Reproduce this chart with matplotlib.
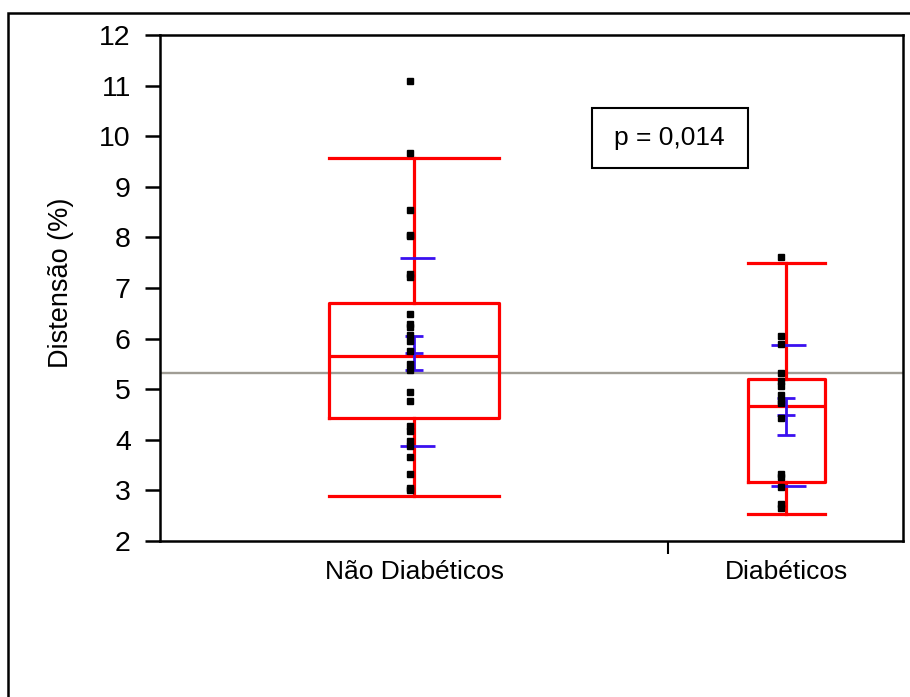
"""
Distensão (%) - Não Diabéticos x Diabéticos
"""

import matplotlib
matplotlib.use("Agg")

import matplotlib.pyplot as plt
from matplotlib.patches import Rectangle


# =====================================================
# Dados
# =====================================================

grupos = ["Não Diabéticos", "Diabéticos"]

nao_diabeticos = [11.10, 9.66, 8.55, 8.05, 8.02, 7.28, 7.22, 6.49, 6.28,
                  6.22, 6.07, 5.96, 5.76, 5.50, 5.38, 4.94, 4.77, 4.28,
                  4.18, 3.98, 3.88, 3.67, 3.33, 3.05, 3.00]

diabeticos = [7.61, 6.05, 5.89, 5.32, 5.17, 5.06, 4.89, 4.77, 4.72,
              4.44, 3.32, 3.27, 3.06, 2.73, 2.66]

# quantis do box plot
bigode_inf = [2.89, 2.54]
q1 = [4.44, 3.17]
mediana = [5.66, 4.66]
q3 = [6.71, 5.21]
bigode_sup = [9.56, 7.49]

# media, erro e desvio padrao
media = [5.71, 4.49]
erro_inf = [5.38, 4.10]
erro_sup = [6.05, 4.83]
dp_inf = [3.88, 3.09]
dp_sup = [7.60, 5.87]

media_geral = 5.33

texto_p = "p = 0,014"


# =====================================================
# Posicoes (eixo x de 0 a 1, largura proporcional ao grupo)
# =====================================================

limite_grupo = 0.684
centro_caixa = [0.342, 0.843]
largura_caixa = [0.228, 0.104]
centro_pontos = [0.336, 0.836]
centro_media = [0.3415, 0.842]
centro_dp = [0.3466, 0.8465]
meia_larg_dp = 0.0236


# =====================================================
# Figura
# =====================================================

fig = plt.figure(figsize=(9.10, 6.97), dpi=100)

plt.rcParams["font.family"] = ["Liberation Sans", "DejaVu Sans"]

ax = fig.add_axes([0.1758, 0.2238, 0.8165, 0.726])

# moldura externa (cortada a direita e embaixo)
fig.add_artist(

    Rectangle(

        (0.0088, -0.2),

        1.2,

        0.2 + 0.9813,

        transform=fig.transFigure,

        fill=False,

        edgecolor="black",

        linewidth=1.8,

        clip_on=False

    )

)

# linha da media geral
ax.axhline(media_geral, color="#a09d95", linewidth=1.7, zorder=1)

# box plots
estat = []

for i in range(2):

    estat.append(dict(

        whislo=bigode_inf[i],

        q1=q1[i],

        med=mediana[i],

        q3=q3[i],

        whishi=bigode_sup[i]

    ))

vermelho = dict(color="#ff0000", linewidth=2.3)

ax.bxp(

    estat,

    positions=centro_caixa,

    widths=largura_caixa,

    capwidths=largura_caixa,

    showfliers=False,

    boxprops=vermelho,

    whiskerprops=vermelho,

    capprops=vermelho,

    medianprops=vermelho,

    manage_ticks=False,

    zorder=2

)

# pontos
for i, valores in enumerate([nao_diabeticos, diabeticos]):

    ax.plot(

        [centro_pontos[i]] * len(valores),

        valores,

        "s",

        color="black",

        markersize=4.0,

        zorder=4

    )

# desvio padrao
azul = "#3a10f0"

for i in range(2):

    ax.hlines(

        [dp_inf[i], dp_sup[i]],

        centro_dp[i] - meia_larg_dp,

        centro_dp[i] + meia_larg_dp,

        color=azul,

        linewidth=2.0,

        zorder=3

    )

# media com barras de erro
ax.errorbar(

    centro_media,

    media,

    yerr=[

        [media[i] - erro_inf[i] for i in range(2)],

        [erro_sup[i] - media[i] for i in range(2)]

    ],

    fmt="_",

    markersize=13,

    capsize=6.5,

    capthick=2.0,

    elinewidth=2.0,

    markeredgewidth=2.0,

    color=azul,

    zorder=3

)

# caixa do p-valor
ax.add_patch(

    Rectangle(

        (0.581, 0.737),

        0.210,

        0.119,

        transform=ax.transAxes,

        fill=False,

        edgecolor="black",

        linewidth=1.5

    )

)

ax.text(0.686, 0.797, texto_p, transform=ax.transAxes,

        ha="center", va="center", fontsize=19)


# =====================================================
# Eixos
# =====================================================

ax.set_xlim(0, 1)

ax.set_ylim(2, 12)

ax.set_yticks(range(2, 13))

ax.set_xticks(centro_caixa)

ax.set_xticklabels(grupos)

ax.set_xticks([limite_grupo], minor=True)

ax.tick_params(axis="y", labelsize=20.5, length=11, width=1.8, pad=10)

ax.tick_params(axis="x", which="major", labelsize=19, length=0, pad=14)

ax.tick_params(axis="x", which="minor", length=9, width=1.5)

ax.set_ylabel("Distensão (%)", fontsize=19.5)

ax.yaxis.set_label_coords(-0.116, 0.51)

for lado in ax.spines.values():

    lado.set_linewidth(1.8)

fig.savefig("out.png", dpi=100)
